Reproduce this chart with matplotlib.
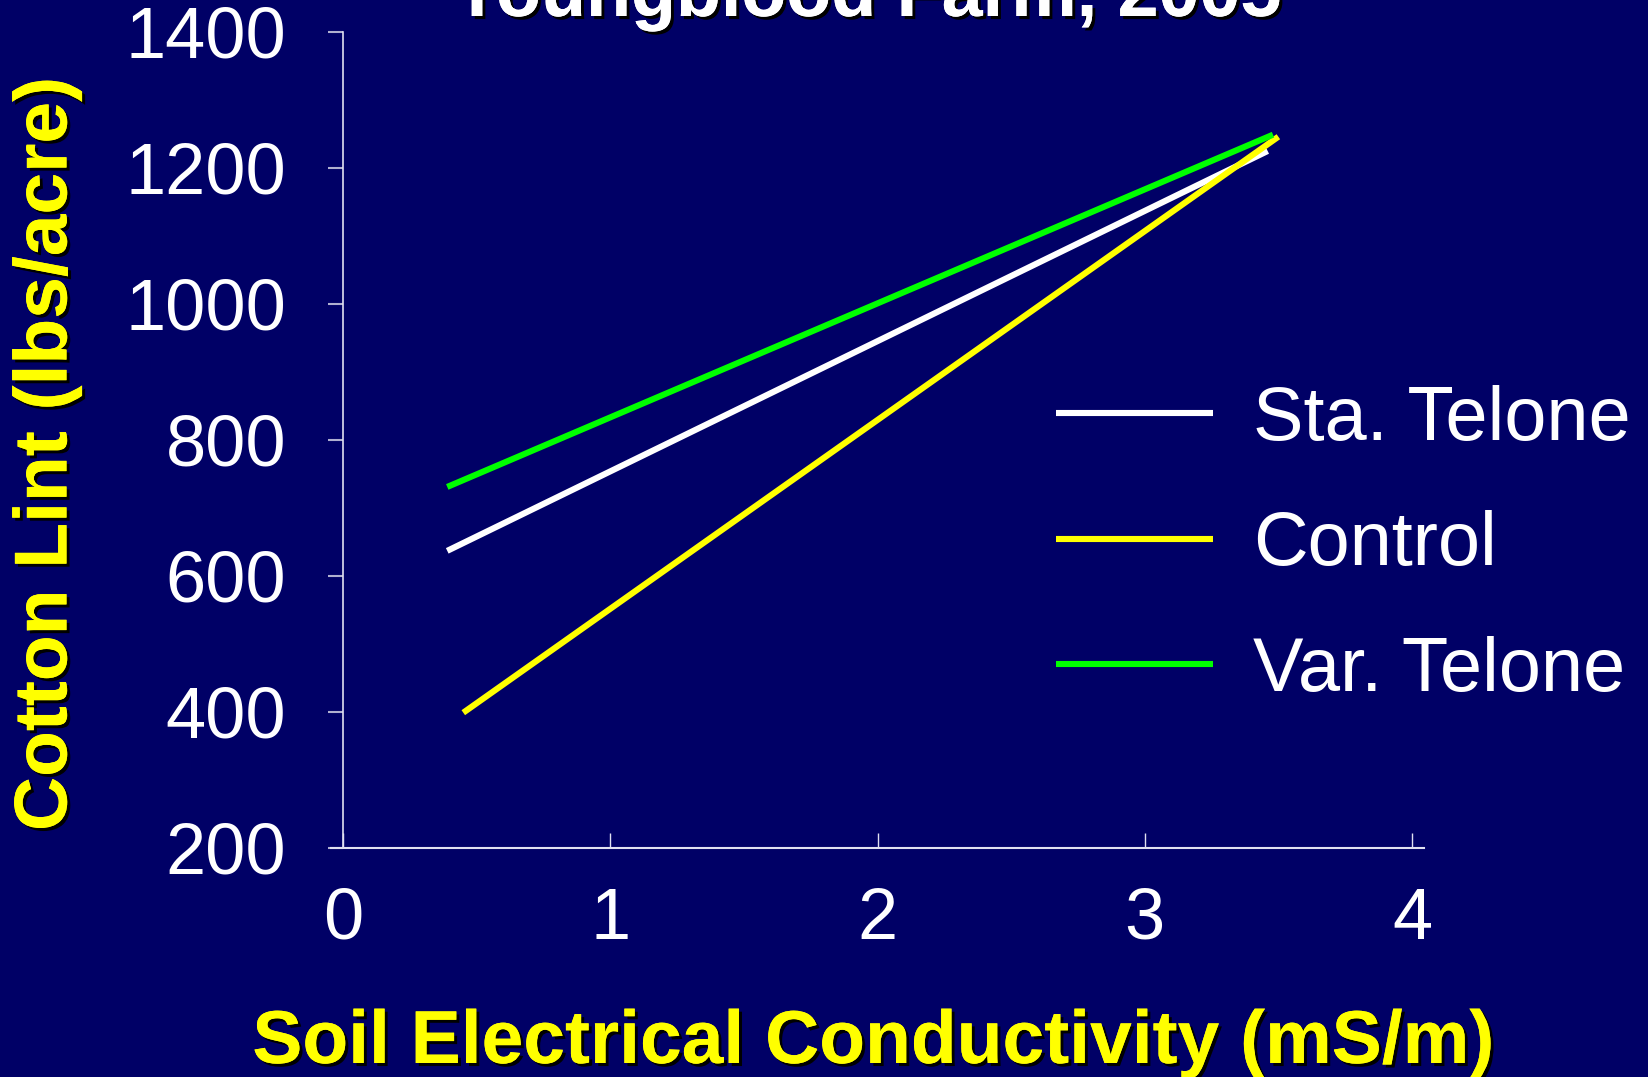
import matplotlib
matplotlib.use("Agg")
import matplotlib.pyplot as plt
import matplotlib.patheffects as pe

# Fitted regression lines: lint yield vs. soil EC
series_names = ["Sta. Telone", "Control", "Var. Telone"]
series_colors = ["#FFFFFF", "#FFFF00", "#00FF00"]
x_start = [0.39, 0.45, 0.39]
x_end = [3.46, 3.50, 3.48]
y_start = [637, 399, 731]
y_end = [1225, 1246, 1249]

x_ticks = [0, 1, 2, 3, 4]
y_ticks = [200, 400, 600, 800, 1000, 1200, 1400]

title = "Youngblood Farm, 2005"
x_label = "Soil Electrical Conductivity (mS/m)"
y_label = "Cotton Lint (lbs/acre)"

bg = "#000066"
W, H = 1648, 1077
fig = plt.figure(figsize=(W / 100, H / 100), dpi=100, facecolor=bg)
ax = fig.add_axes([331 / W, 1 - 848 / H, (1424 - 331) / W, (848 - 32) / H])
ax.set_facecolor(bg)

for name, c, xs, xe, ys, ye in zip(series_names, series_colors, x_start, x_end, y_start, y_end):
    ax.plot([xs, xe], [ys, ye], color=c, lw=4.4, solid_capstyle="butt", label=name)

ax.set_xlim(-0.045, 4.045)
ax.set_ylim(200, 1400)
ax.spines["left"].set_position(("data", 0))
ax.spines["top"].set_visible(False)
ax.spines["right"].set_visible(False)
ax.spines["left"].set_color("#E0E0F0")
ax.spines["bottom"].set_color("#E0E0F0")
ax.spines["left"].set_linewidth(1.2)
ax.spines["bottom"].set_linewidth(1.5)

ax.set_xticks(x_ticks)
ax.set_yticks(y_ticks)
ax.set_xticklabels([str(v) for v in x_ticks], family="Liberation Sans",
                   fontsize=52, color="white")
ax.set_yticklabels([str(v) for v in y_ticks], family="Liberation Sans", fontsize=52, color="white")
ax.tick_params(axis="x", direction="in", length=11, width=1, color="#E0E0F0", pad=28)
ax.tick_params(axis="y", direction="out", length=11, width=1.5, color="#B0B0D0", pad=30)

shadow = [pe.withSimplePatchShadow(offset=(2.2, -2.2), shadow_rgbFace="black", alpha=1.0), pe.Normal()]

fig.text(867 / W, 1 - 16 / H, title, ha="center", va="baseline", fontsize=53,
         fontweight="bold", family="Liberation Sans", color="white", path_effects=shadow)
fig.text(873 / W, 1 - 1063 / H, x_label, ha="center", va="baseline", fontsize=54,
         fontweight="bold", family="Liberation Sans", color="#FFFF00", path_effects=shadow)
fig.text(47 / W, 1 - 454 / H, y_label, ha="center", va="center", rotation=90, fontsize=54,
         fontweight="bold", family="Liberation Sans", color="#FFFF00", path_effects=shadow)

leg = ax.legend(loc="upper left", bbox_to_anchor=(1018 / W, 1 - 347 / H),
                bbox_transform=fig.transFigure, frameon=False,
                prop={"family": "Liberation Sans", "size": 54.5},
                handlelength=2.07, handletextpad=0.54, labelspacing=0.72, borderpad=0)
for t in leg.get_texts():
    t.set_color("white")

fig.savefig("out.png", dpi=100, facecolor=bg)
